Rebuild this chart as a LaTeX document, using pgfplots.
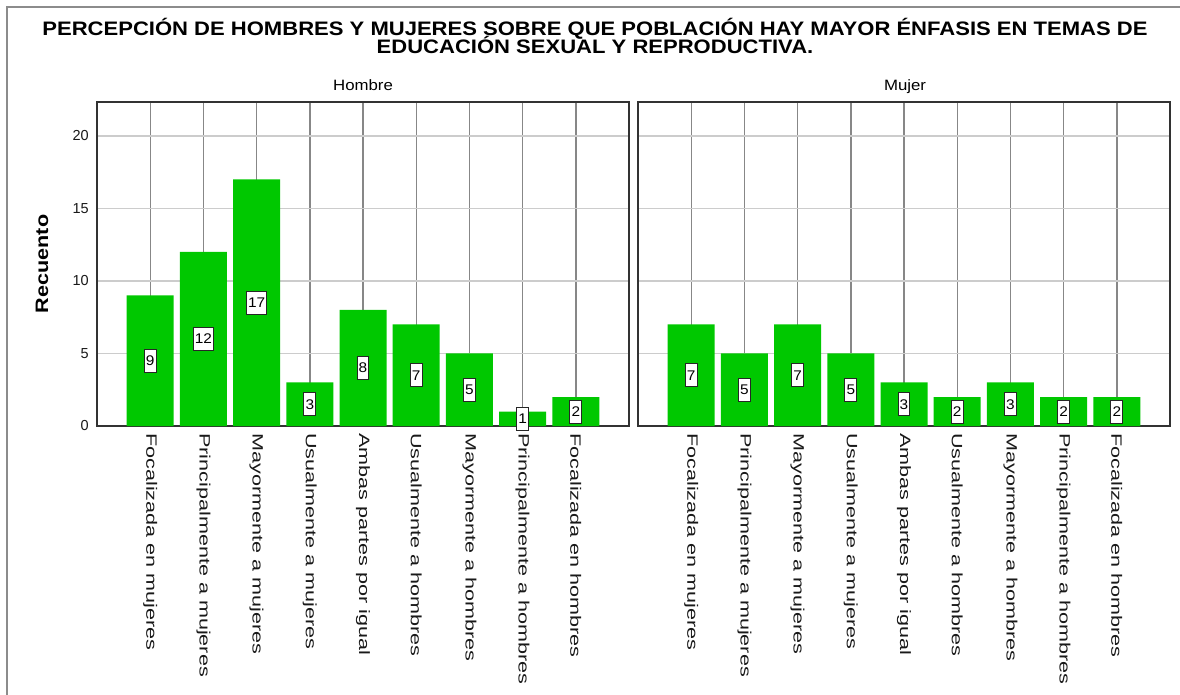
\documentclass[border=0pt]{standalone}
\usepackage{fontspec}
\setmainfont{Liberation Sans}
\newfontfamily\titlefont[FakeStretch=1.13]{Liberation Sans}
\newfontfamily\catfont[FakeStretch=1.44]{Liberation Sans}
\newfontfamily\panelfont[FakeStretch=1.12]{Liberation Sans}
\newfontfamily\ylabfont[FakeStretch=1.2]{Liberation Sans}
\newfontfamily\numfont[FakeStretch=1.1]{Liberation Sans}
\usepackage{pgfplots}
\pgfplotsset{compat=1.18}
\usepackage{pgfplotstable}

\definecolor{bargreen}{RGB}{0,200,0}
\definecolor{vgrid}{RGB}{135,135,135}
\definecolor{hgrid}{RGB}{204,204,204}
\definecolor{frame}{RGB}{50,50,50}

\pgfplotstableread{
x y
1 9
2 12
3 17
4 3
5 8
6 7
7 5
8 1
9 2
}\hombre

\pgfplotstableread{
x y
1 7
2 5
3 7
4 5
5 3
6 2
7 3
8 2
9 2
}\mujer

\pgfplotsset{
  panel/.style={
    width=532pt, height=324pt, scale only axis,
    xmin=0, xmax=10, ymin=0, ymax=22.34,
    axis line style={draw=frame, line width=1.6pt},
    xtick={1,...,9},
    xticklabels={Focalizada en mujeres, Principalmente a mujeres, Mayormente a mujeres, Usualmente a mujeres, Ambas partes por igual, Usualmente a hombres, Mayormente a hombres, Principalmente a hombres, Focalizada en hombres},
    ytick={0,5,10,15,20},
    major tick length=0pt,
    xmajorgrids, ymajorgrids,
    x grid style={draw=vgrid, line width=1.4pt},
    y grid style={draw=hgrid, line width=1.6pt},
    xticklabel style={yshift=-7pt, rotate=-90, anchor=west, inner sep=0pt,
      font=\catfont\fontsize{15}{15}\selectfont, text=black!90},
    yticklabel style={xshift=-8pt, anchor=east, inner sep=0pt,
      font=\fontsize{14.5}{14.5}\selectfont, text=black!90},
    /pgf/number format/assume math mode=true,
    clip=false,
  },
  bars/.style={ybar, bar width=47pt, fill=bargreen, draw=none, bar shift=0pt},
  vals/.style={draw=none, mark=none, forget plot,
    nodes near coords, point meta=explicit symbolic,
    every node near coord/.append style={anchor=center, draw=black!85, fill=white,
      line width=1pt, inner xsep=1.6pt, inner ysep=0pt, minimum height=23pt,
      font=\numfont\fontsize{14}{14}\selectfont, text=black}},
}

\begin{document}
\begin{tikzpicture}[x=1pt,y=1pt]
\useasboundingbox (0pt,0pt) rectangle (1180pt,-695pt);
\fill[white] (0pt,0pt) rectangle (1180pt,-695pt);
\draw[black!45, line width=1.6pt] (7pt,-695pt) -- (7pt,-7pt) -- (1180pt,-7pt);

\node[anchor=base, inner sep=0pt, font=\titlefont\bfseries\fontsize{19.5}{19.5}\selectfont] at (595pt,-36pt)
  {PERCEPCIÓN DE HOMBRES Y MUJERES SOBRE QUE POBLACIÓN HAY MAYOR ÉNFASIS EN TEMAS DE};
\node[anchor=base, inner sep=0pt, font=\titlefont\bfseries\fontsize{19.5}{19.5}\selectfont] at (595pt,-54pt)
  {EDUCACIÓN SEXUAL Y REPRODUCTIVA.};

\node[anchor=base, inner sep=0pt, font=\panelfont\fontsize{15}{15}\selectfont] at (363pt,-91pt) {Hombre};
\node[anchor=base, inner sep=0pt, font=\panelfont\fontsize{15}{15}\selectfont] at (905pt,-91pt) {Mujer};

\node[rotate=90, inner sep=0pt, font=\ylabfont\bfseries\fontsize{18}{18}\selectfont] at (42pt,-264pt) {Recuento};

\begin{axis}[panel, at={(97pt,-102pt)}, anchor=north west]
  \addplot[bars] table[x=x, y=y] {\hombre};
  \addplot[vals] table[x=x, y expr=\thisrow{y}/2, meta=y] {\hombre};
\end{axis}

\begin{axis}[panel, at={(638pt,-102pt)}, anchor=north west, yticklabels={}]
  \addplot[bars] table[x=x, y=y] {\mujer};
  \addplot[vals] table[x=x, y expr=\thisrow{y}/2, meta=y] {\mujer};
\end{axis}
\end{tikzpicture}
\end{document}
